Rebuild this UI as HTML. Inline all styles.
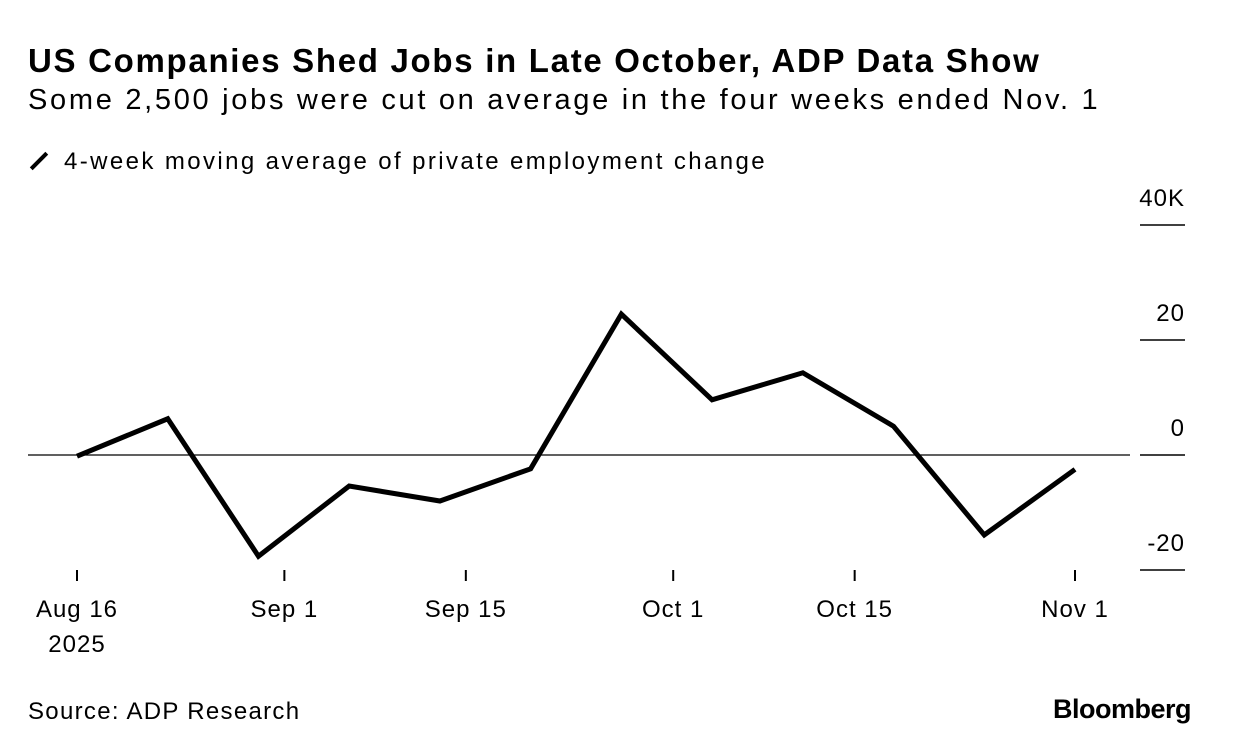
<!DOCTYPE html>
<html><head><meta charset="utf-8"><style>
body{margin:0;background:#fff;font-family:"Liberation Sans",sans-serif;color:#000}
#wrap{position:relative;width:1233px;height:754px;overflow:hidden}
.t{position:absolute;white-space:nowrap}
</style></head><body>
<div id="wrap">
<div class="t" style="left:28px;top:42px;font-size:33px;font-weight:bold;letter-spacing:1.7px">US Companies Shed Jobs in Late October, ADP Data Show</div>
<div class="t" style="left:28px;top:84px;font-size:29px;letter-spacing:2.7px">Some 2,500 jobs were cut on average in the four weeks ended Nov. 1</div>
<div class="t" style="left:28px;top:148px;font-size:24px;letter-spacing:2.4px"><span style="display:inline-block;width:22px;height:4px;background:#000;transform:rotate(-45deg);vertical-align:middle;margin-right:14px;position:relative;top:-2px"></span>4-week moving average of private employment change</div>
<div class="t" style="left:28px;top:698px;font-size:24px;letter-spacing:1.3px">Source: ADP Research</div>
<div class="t" style="left:1053px;top:694px;font-size:27px;font-weight:bold;letter-spacing:-0.5px">Bloomberg</div>
<svg id="chart" width="1233" height="754" style="position:absolute;left:0;top:0"></svg>
</div>
<script>
const dates=["2025-08-16","2025-08-23","2025-08-30","2025-09-06","2025-09-13","2025-09-20","2025-09-27","2025-10-04","2025-10-11","2025-10-18","2025-10-25","2025-11-01"];
const values=[-0.2,6.3,-17.6,-5.4,-8,-2.4,24.5,9.6,14.3,5,-13.9,-2.5];
const yTicks=[40,20,0,-20];
const yTickLabels=["40K","20","0","-20"];
const xTickDates=["2025-08-16","2025-09-01","2025-09-15","2025-10-01","2025-10-15","2025-11-01"];
const xTickLabels=["Aug 16","Sep 1","Sep 15","Oct 1","Oct 15","Nov 1"];
const NS="http://www.w3.org/2000/svg";
const svg=document.getElementById('chart');
const d0=Date.parse("2025-08-16"),d1=Date.parse("2025-11-01");
const x=d=>77+(Date.parse(d)-d0)/(d1-d0)*(1075-77);
const y=v=>455-v*5.75;
function mk(tag,a){const e=document.createElementNS(NS,tag);for(const k in a)e.setAttribute(k,a[k]);svg.appendChild(e);return e;}
yTicks.forEach((v,i)=>{
 const l=mk('line',{x1:1140,x2:1185,y1:y(v),y2:y(v),stroke:'#000','stroke-width':1.5});
 
 
 const t=mk('text',{x:1185,y:y(v)-19,'text-anchor':'end','font-size':24,'letter-spacing':1,'font-family':'Liberation Sans, sans-serif'});
 t.textContent=yTickLabels[i];
 
 
});
const z=mk('line',{x1:28,x2:1130,y1:y(0),y2:y(0),stroke:'#000','stroke-width':1.2});


xTickDates.forEach((d,i)=>{
 const l=mk('line',{x1:x(d),x2:x(d),y1:570,y2:581,stroke:'#000','stroke-width':2});
 
 
 const t=mk('text',{x:x(d),y:617,'text-anchor':'middle','font-size':24,'letter-spacing':1,'font-family':'Liberation Sans, sans-serif'});
 t.textContent=xTickLabels[i];
 
 
});
const yr=mk('text',{x:x(xTickDates[0]),y:652,'text-anchor':'middle','font-size':24,'letter-spacing':1,'font-family':'Liberation Sans, sans-serif'});
yr.textContent="2025";


const p=mk('polyline',{points:dates.map((d,i)=>x(d)+','+y(values[i])).join(' '),fill:'none',stroke:'#000','stroke-width':5,'stroke-linejoin':'miter'});


</script>
</body></html>
